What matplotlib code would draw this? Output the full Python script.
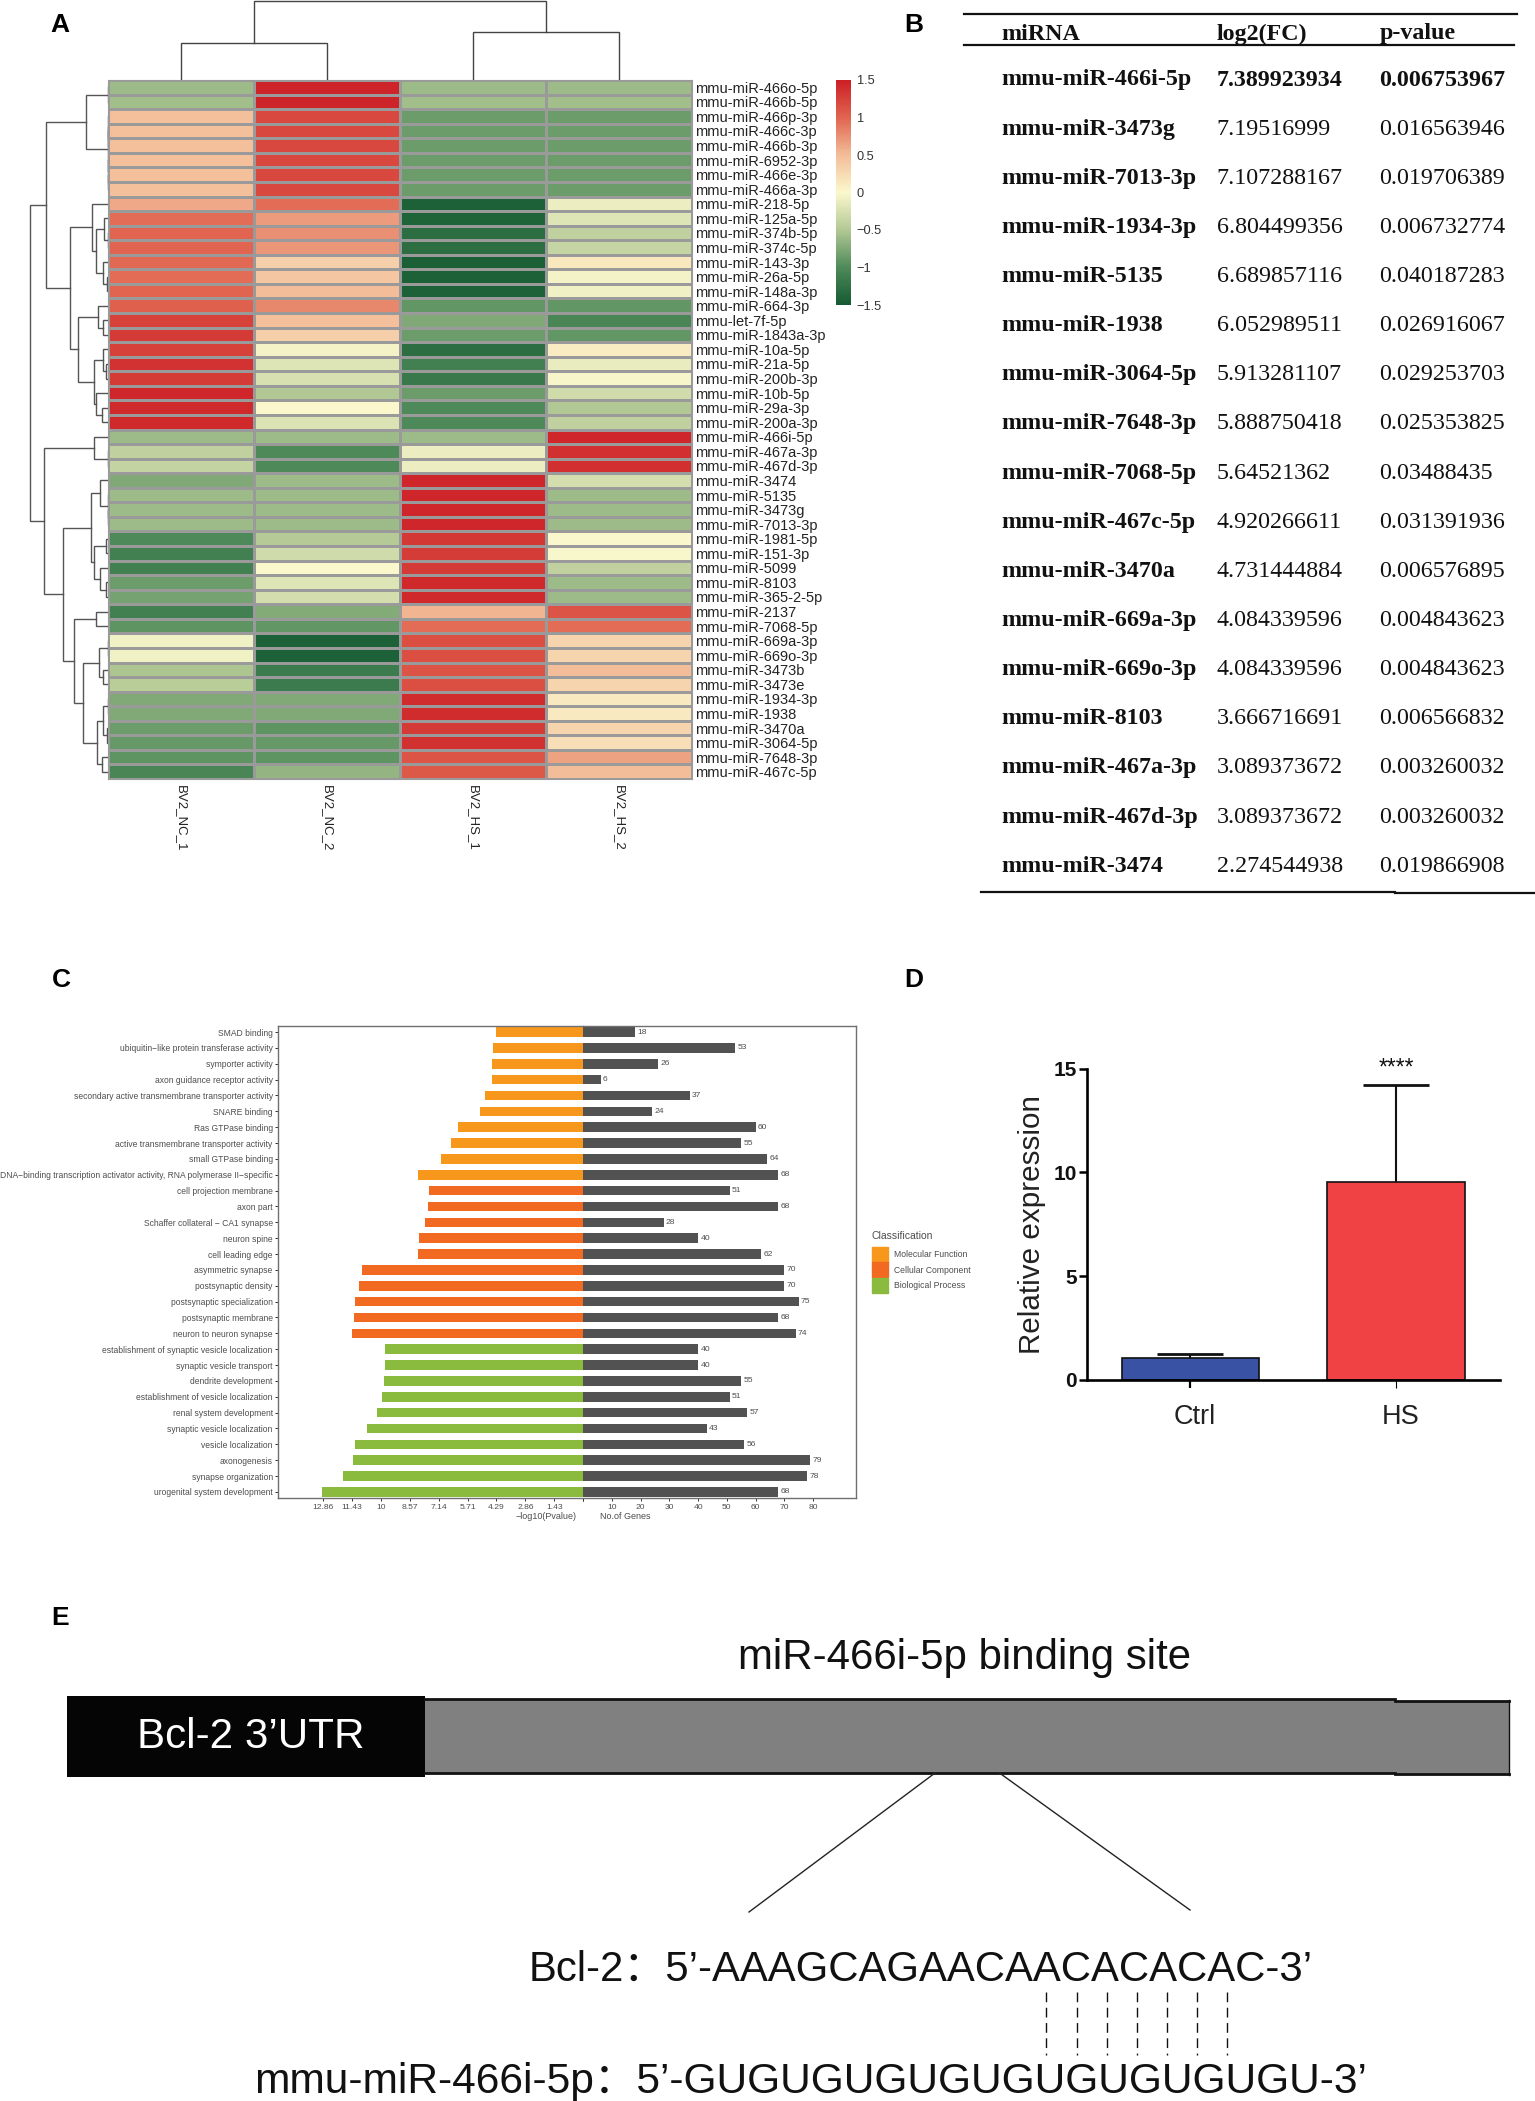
#!/usr/bin/python
# -*- coding:utf8 -*-

import numpy as np
import matplotlib
matplotlib.use('Agg')
import matplotlib.pyplot as plt
from matplotlib.colors import LinearSegmentedColormap
from matplotlib.patches import Patch, Rectangle

plt.rcParams['font.family'] = ['Liberation Sans', 'Noto Sans CJK SC']

W, H = 1535, 2101

# panel A
mirnas = ['mmu-miR-466o-5p', 'mmu-miR-466b-5p', 'mmu-miR-466p-3p', 'mmu-miR-466c-3p', 'mmu-miR-466b-3p',
          'mmu-miR-6952-3p', 'mmu-miR-466e-3p', 'mmu-miR-466a-3p', 'mmu-miR-218-5p', 'mmu-miR-125a-5p',
          'mmu-miR-374b-5p', 'mmu-miR-374c-5p', 'mmu-miR-143-3p', 'mmu-miR-26a-5p', 'mmu-miR-148a-3p',
          'mmu-miR-664-3p', 'mmu-let-7f-5p', 'mmu-miR-1843a-3p', 'mmu-miR-10a-5p', 'mmu-miR-21a-5p',
          'mmu-miR-200b-3p', 'mmu-miR-10b-5p', 'mmu-miR-29a-3p', 'mmu-miR-200a-3p', 'mmu-miR-466i-5p',
          'mmu-miR-467a-3p', 'mmu-miR-467d-3p', 'mmu-miR-3474', 'mmu-miR-5135', 'mmu-miR-3473g',
          'mmu-miR-7013-3p', 'mmu-miR-1981-5p', 'mmu-miR-151-3p', 'mmu-miR-5099', 'mmu-miR-8103',
          'mmu-miR-365-2-5p', 'mmu-miR-2137', 'mmu-miR-7068-5p', 'mmu-miR-669a-3p', 'mmu-miR-669o-3p',
          'mmu-miR-3473b', 'mmu-miR-3473e', 'mmu-miR-1934-3p', 'mmu-miR-1938', 'mmu-miR-3470a',
          'mmu-miR-3064-5p', 'mmu-miR-7648-3p', 'mmu-miR-467c-5p']
samples = ['BV2_NC_1', 'BV2_NC_2', 'BV2_HS_1', 'BV2_HS_2']
nc_1 = [-.6, -.58, .47, .47, .47, .47, .47, .47, .62, .95, 1.0, 1.0, .98, .95, 1.0, 1.02, 1.25, 1.3, 1.25, 1.35,
        1.3, 1.45, 1.42, 1.42, -.6, -.4, -.38, -.75, -.6, -.6, -.6, -1.0, -1.1, -1.1, -.85, -.8, -1.1, -.92,
        -.08, -.08, -.52, -.45, -.75, -.75, -.85, -.87, -.92, -1.05]
nc_2 = [1.46, 1.46, 1.2, 1.2, 1.2, 1.2, 1.2, 1.2, .95, .68, .75, .72, .35, .42, .5, .8, .47, .35, -.05, -.2,
        -.25, -.5, 0, -.22, -.6, -1.0, -1.0, -.6, -.6, -.6, -.6, -.47, -.3, 0, -.2, -.28, -.73, -.9,
        -1.42, -1.42, -1.15, -1.15, -.75, -.75, -.92, -.87, -.92, -.65]
hs_1 = [-.6, -.58, -.85, -.85, -.85, -.85, -.85, -.85, -1.42, -1.4, -1.3, -1.3, -1.45, -1.42, -1.42, -.9, -.75,
        -.85, -1.3, -1.1, -1.18, -.85, -1.0, -1.0, -.6, -.1, -.1, 1.45, 1.45, 1.45, 1.45, 1.32, 1.28, 1.3, 1.42,
        1.42, .55, .95, 1.15, 1.15, 1.12, 1.15, 1.4, 1.4, 1.3, 1.37, 1.12, 1.08]
hs_2 = [-.6, -.58, -.85, -.85, -.85, -.85, -.85, -.85, -.1, -.2, -.4, -.37, .15, -.05, -.08, -.9, -1.05, -.9, .1,
        -.12, -.03, -.3, -.5, -.4, 1.45, 1.38, 1.38, -.28, -.6, -.6, -.6, 0, -.02, -.4, -.6, -.6, 1.12, .95,
        .3, .3, .5, .3, .12, .12, .3, .22, .65, .5]

# merge trees: (height, left, right), ints are leaves
row_tree = (78,
            (62.7,
             (22.7, (0.4, 0, 1),
              (0.3, (0.3, 2, (0.3, 3, 4)), (0.3, 5, (0.3, 6, 7)))),
             (38,
              (16, 8, (12.7, (4.7, 9, (0.6, 10, 11)), (5.3, 12, (1.3, 13, 14)))),
              (30.7,
               (10.7, 15, (5.7, 16, 17)),
               (14.7, (5.7, 18, (2, 19, 20)), (12, 21, (6, 22, 23)))))),
            (64,
             (14.7, 24, (0.4, 25, 26)),
             (45.3,
              (17.7,
               (8.7, 27, (0.4, 28, (0.4, 29, 30))),
               (14, (2.7, 31, 32), (8.7, 33, (2, 34, 35)))),
              (34.7,
               (12.7, 36, 37),
               (25.3,
                (9.3, (0.4, 38, 39), (5.3, 40, 41)),
                (11.7, (5, (0.4, 42, 43), (1.3, 44, 45)), (6, 46, 47)))))))
col_tree = (79, (37, 0, 1), (48, 2, 3))

heat_colors = ['#145a32', '#4f8a59', '#b2c894', '#fbf8cd', '#f3bd99', '#e0654f', '#cc1f26']

# panel B
table_header = ['miRNA', 'log2(FC)', 'p-value']
table_names = ['mmu-miR-466i-5p', 'mmu-miR-3473g', 'mmu-miR-7013-3p', 'mmu-miR-1934-3p', 'mmu-miR-5135',
               'mmu-miR-1938', 'mmu-miR-3064-5p', 'mmu-miR-7648-3p', 'mmu-miR-7068-5p', 'mmu-miR-467c-5p',
               'mmu-miR-3470a', 'mmu-miR-669a-3p', 'mmu-miR-669o-3p', 'mmu-miR-8103', 'mmu-miR-467a-3p',
               'mmu-miR-467d-3p', 'mmu-miR-3474']
table_fc = ['7.389923934', '7.19516999', '7.107288167', '6.804499356', '6.689857116', '6.052989511', '5.913281107',
            '5.888750418', '5.64521362', '4.920266611', '4.731444884', '4.084339596', '4.084339596', '3.666716691',
            '3.089373672', '3.089373672', '2.274544938']
table_p = ['0.006753967', '0.016563946', '0.019706389', '0.006732774', '0.040187283', '0.026916067', '0.029253703',
           '0.025353825', '0.03488435', '0.031391936', '0.006576895', '0.004843623', '0.004843623', '0.006566832',
           '0.003260032', '0.003260032', '0.019866908']

# panel C
go_terms = ['SMAD binding', 'ubiquitin\u2212like protein transferase activity', 'symporter activity',
            'axon guidance receptor activity', 'secondary active transmembrane transporter activity', 'SNARE binding',
            'Ras GTPase binding', 'active transmembrane transporter activity', 'small GTPase binding',
            'DNA\u2212binding transcription activator activity, RNA polymerase II\u2212specific',
            'cell projection membrane', 'axon part', 'Schaffer collateral \u2212 CA1 synapse', 'neuron spine',
            'cell leading edge', 'asymmetric synapse', 'postsynaptic density', 'postsynaptic specialization',
            'postsynaptic membrane', 'neuron to neuron synapse', 'establishment of synaptic vesicle localization',
            'synaptic vesicle transport', 'dendrite development', 'establishment of vesicle localization',
            'renal system development', 'synaptic vesicle localization', 'vesicle localization', 'axonogenesis',
            'synapse organization', 'urogenital system development']
go_logp = [4.33, 4.48, 4.51, 4.53, 4.87, 5.12, 6.21, 6.55, 7.03, 8.17, 7.61, 7.67, 7.84, 8.13, 8.15, 10.93, 11.08,
           11.26, 11.34, 11.43, 9.81, 9.81, 9.85, 9.95, 10.19, 10.69, 11.26, 11.36, 11.87, 12.9]
go_genes = [18, 53, 26, 6, 37, 24, 60, 55, 64, 68, 51, 68, 28, 40, 62, 70, 70, 75, 68, 74, 40, 40, 55, 51, 57, 43,
            56, 79, 78, 68]
go_class = ['Molecular Function'] * 10 + ['Cellular Component'] * 10 + ['Biological Process'] * 10
class_colors = {'Molecular Function': '#f7981d', 'Cellular Component': '#f26a21', 'Biological Process': '#8abb3f'}
logp_ticks = [12.86, 11.43, 10, 8.57, 7.14, 5.71, 4.29, 2.86, 1.43]
gene_ticks = [10, 20, 30, 40, 50, 60, 70, 80]

# panel D
groups = ['Ctrl', 'HS']
expr_mean = [1.03, 9.52]
expr_err = [0.2, 4.71]
expr_colors = ['#3a52a4', '#f04144']

# panel E
seq_top = 'Bcl-2\uff1a5\u2019-AAAGCAGAACAACACACAC-3\u2019'
seq_bottom = 'mmu-miR-466i-5p\uff1a5\u2019-GUGUGUGUGUGUGUGUGUGU-3\u2019'


def px_axes(x0, y0, x1, y1):
    return fig.add_axes([x0 / W, 1 - y1 / H, (x1 - x0) / W, (y1 - y0) / H])


def draw_tree(ax, node, vertical):
    if not isinstance(node, tuple):
        return node + 0.5, 0
    h, left, right = node
    p1, h1 = draw_tree(ax, left, vertical)
    p2, h2 = draw_tree(ax, right, vertical)
    pos = [p1, p1, p2, p2]
    hgt = [h1, h, h, h2]
    if vertical:
        ax.plot(pos, hgt, color='#444444', lw=1.0, solid_joinstyle='miter')
    else:
        ax.plot(hgt, pos, color='#555555', lw=1.0, solid_joinstyle='miter')
    return (p1 + p2) / 2, h


fig = plt.figure(figsize=(W / 100, H / 100), dpi=100, facecolor='white')

# full page overlay in pixels, for table, letters and the schematic
page = fig.add_axes([0, 0, 1, 1], zorder=5)
page.set_xlim(0, W)
page.set_ylim(H, 0)
page.axis('off')
page.patch.set_alpha(0)

# A
cmap = LinearSegmentedColormap.from_list('heat', heat_colors)
heat = np.array([nc_1, nc_2, hs_1, hs_2]).T
ax = px_axes(108.3, 80, 692, 779)
mesh = ax.pcolormesh(heat, cmap=cmap, vmin=-1.5, vmax=1.5, edgecolors='#9a9a9a', linewidth=0.9)
ax.set_xlim(0, 4)
ax.set_ylim(48, 0)
ax.set_xticks(np.arange(4) + 0.5)
ax.set_xticklabels(samples, rotation=270, fontsize=9.5, color='#222222')
ax.set_yticks(np.arange(48) + 0.5)
ax.set_yticklabels(mirnas, fontsize=10.5, color='#222222')
ax.yaxis.tick_right()
ax.tick_params(length=0)
ax.tick_params(axis='y', pad=2.5)
ax.tick_params(axis='x', pad=4)
for s in ax.spines.values():
    s.set_color('#9a9a9a')

ax = px_axes(20, 80, 108.3, 779)
draw_tree(ax, row_tree, False)
ax.set_xlim(88.3, 0)
ax.set_ylim(48, 0)
ax.axis('off')

ax = px_axes(108.3, 0, 692, 80)
draw_tree(ax, col_tree, True)
ax.set_xlim(0, 4)
ax.set_ylim(0, 80)
ax.axis('off')

cax = px_axes(835.7, 80, 851, 305)
cbar = fig.colorbar(mesh, cax=cax, ticks=[-1.5, -1, -0.5, 0, 0.5, 1, 1.5])
cbar.ax.set_yticklabels(['\u22121.5', '\u22121', '\u22120.5', '0', '0.5', '1', '1.5'])
cbar.ax.tick_params(length=0, labelsize=9.2, pad=4, labelcolor='#333333')
cbar.outline.set_visible(False)

# B
col_x = [1001, 1216.7, 1379.5]
serif = 'Liberation Serif'
for x, t in zip(col_x, table_header):
    page.text(x, 34, t, family=serif, weight='bold', fontsize=17.25, va='center', color='#111111')
for i in range(len(table_names)):
    y = 80 + i * (866.2 - 80) / 16
    first = 'bold' if i == 0 else 'normal'
    page.text(col_x[0], y, table_names[i], family=serif, weight='bold', fontsize=17.25, va='center', color='#111111')
    page.text(col_x[1], y, table_fc[i], family=serif, weight=first, fontsize=17.25, va='center', color='#111111')
    page.text(col_x[2], y, table_p[i], family=serif, weight=first, fontsize=17.25, va='center', color='#111111')
page.plot([964, 1517], [14.3, 14.3], color='#111111', lw=1.6)
page.plot([964, 1514], [44.7, 44.7], color='#111111', lw=1.6)
page.plot([981, 1395], [892.3, 892.3], color='#111111', lw=1.6)
page.plot([1395, 1535], [893.3, 893.3], color='#111111', lw=1.6)

# C
y_pos = np.arange(len(go_terms))
grey = '#4d4d4d'
ax_l = px_axes(277.7, 1025.7, 583.3, 1497.6)
ax_l.barh(y_pos, go_logp, height=0.6, color=[class_colors[c] for c in go_class])
ax_l.set_xlim(15.1, 0)
ax_l.set_ylim(29.36, -0.4)
ax_l.set_yticks(y_pos)
ax_l.set_yticklabels(go_terms, fontsize=6.13, color=grey)
ax_l.set_xticks(logp_ticks + [0])
ax_l.set_xticklabels([str(t) for t in logp_ticks] + [''], fontsize=6.1, color=grey)
ax_l.tick_params(length=2, width=0.7, color='#333333')
ax_l.tick_params(axis='y', pad=1.6)
ax_l.tick_params(axis='x', pad=2.5)
ax_l.set_xlabel('\u2212log10(Pvalue)', fontsize=6.5, color=grey)
ax_l.xaxis.set_label_coords(0.877, -0.03)
ax_l.spines['right'].set_visible(False)

ax_r = px_axes(583.3, 1025.7, 856, 1497.6)
ax_r.barh(y_pos, go_genes, height=0.6, color='#525252')
for y, v in zip(y_pos, go_genes):
    ax_r.text(v + 0.8, y, str(v), fontsize=6.1, color=grey, va='center', ha='left')
ax_r.set_xlim(0, 95)
ax_r.set_ylim(29.36, -0.4)
ax_r.set_yticks([])
ax_r.set_xticks([0] + gene_ticks)
ax_r.set_xticklabels([''] + [str(t) for t in gene_ticks], fontsize=6.1, color=grey)
ax_r.tick_params(length=2, width=0.7, pad=2.5, color='#333333')
ax_r.set_xlabel('No.of Genes', fontsize=6.5, color=grey)
ax_r.xaxis.set_label_coords(0.153, -0.03)
ax_r.spines['left'].set_visible(False)
for a in (ax_l, ax_r):
    for s in a.spines.values():
        s.set_color('#707070')
        s.set_linewidth(1.0)

handles = [Patch(color=class_colors[k], label=k) for k in class_colors]
leg = fig.legend(handles=handles, title='Classification', loc='upper left',
                 bbox_to_anchor=(872 / W, 1 - 1231 / H), frameon=False, fontsize=6.2, title_fontsize=7.5,
                 alignment='left', handlelength=1.85, handleheight=2.3, labelspacing=0.1, handletextpad=0.65,
                 borderpad=0, borderaxespad=0, labelcolor=grey)
leg.get_title().set_color(grey)
leg._legend_box.sep = 4

# D
ax = px_axes(1087, 1068.7, 1500, 1379.7)
ax.bar([0, 1], expr_mean, width=0.668, color=expr_colors, edgecolor='#111111', linewidth=1.2)
eb = ax.errorbar([0, 1], expr_mean, yerr=[[0, 0], expr_err], fmt='none', ecolor='#111111', elinewidth=1.5,
                 capsize=24, capthick=2.0)
eb[1][0].set_visible(False)
ax.set_xlim(-0.502, 1.504)
ax.set_ylim(0, 15)
ax.set_yticks([0, 5, 10, 15])
ax.set_yticklabels(['0', '5', '10', '15'], fontsize=15, fontweight='bold', color='#111111')
ax.set_xticks([0, 1])
ax.set_xticklabels([])
ax.tick_params(axis='y', length=5.5, width=1.8, pad=2)
ax.tick_params(axis='x', length=6, width=1.6)
ax.get_xticklines()[2].set_markeredgewidth(0.8)
ax.spines['top'].set_visible(False)
ax.spines['right'].set_visible(False)
ax.spines['left'].set_linewidth(1.9)
ax.spines['bottom'].set_linewidth(1.9)
ax.set_ylabel('Relative expression', fontsize=21.3, color='#222222')
ax.yaxis.set_label_coords((1031.5 - 1087) / 413, 0.5)
ax.yaxis.label.set_verticalalignment('center')
page.text(1195, 1416.7, groups[0], fontsize=19.5, ha='center', va='center', color='#222222')
page.text(1401, 1416.7, groups[1], fontsize=19.5, ha='center', va='center', color='#222222')
page.text(1396, 1068, '****', fontsize=16.4, ha='center', va='center', color='#111111')

# E
page.add_patch(Rectangle((425, 1699.3), 970, 74, facecolor='#808080', edgecolor='none'))
page.add_patch(Rectangle((1395, 1701), 113.6, 73.3, facecolor='#808080', edgecolor='none'))
page.plot([425, 1395], [1699.3, 1699.3], color='#111111', lw=2.0)
page.plot([425, 1395], [1773.3, 1773.3], color='#111111', lw=2.0)
page.plot([1395, 1508.6], [1701, 1701], color='#111111', lw=2.0)
page.plot([1395, 1508.6], [1774.3, 1774.3], color='#111111', lw=2.0)
page.plot([1508.6, 1508.6], [1700, 1775], color='#111111', lw=1.0)
page.add_patch(Rectangle((66.6, 1696.3), 358.4, 80.4, facecolor='#050505', edgecolor='none'))
page.text(250.5, 1736.5, 'Bcl-2 3\u2019UTR', color='white', fontsize=30.3, ha='center', va='center')
page.text(965, 1658, 'miR-466i-5p binding site', color='#111111', fontsize=30.25, ha='center', va='center')
page.plot([935, 749], [1773, 1912], color='#222222', lw=1.0)
page.plot([999.5, 1190], [1773, 1910], color='#222222', lw=1.0)
for x in [1045.5, 1077, 1107, 1136.6, 1167, 1197, 1226.6]:
    page.plot([x, x], [1991.7, 2055], color='#111111', lw=1.0, ls=(0, (7, 4)))
page.text(528.6, 1970, seq_top, color='#111111', fontsize=30.2, ha='left', va='center')
page.text(254.5, 2081.7, seq_bottom, color='#111111', fontsize=30.6, ha='left', va='center')

# letters
for t, x, y in [('A', 60, 24.5), ('B', 914, 24.5), ('C', 61.7, 980), ('D', 914, 980), ('E', 60, 1618)]:
    page.text(x, y, t, fontsize=19, fontweight='bold', ha='center', va='center', color='black')

fig.savefig('out.png', dpi=100)
